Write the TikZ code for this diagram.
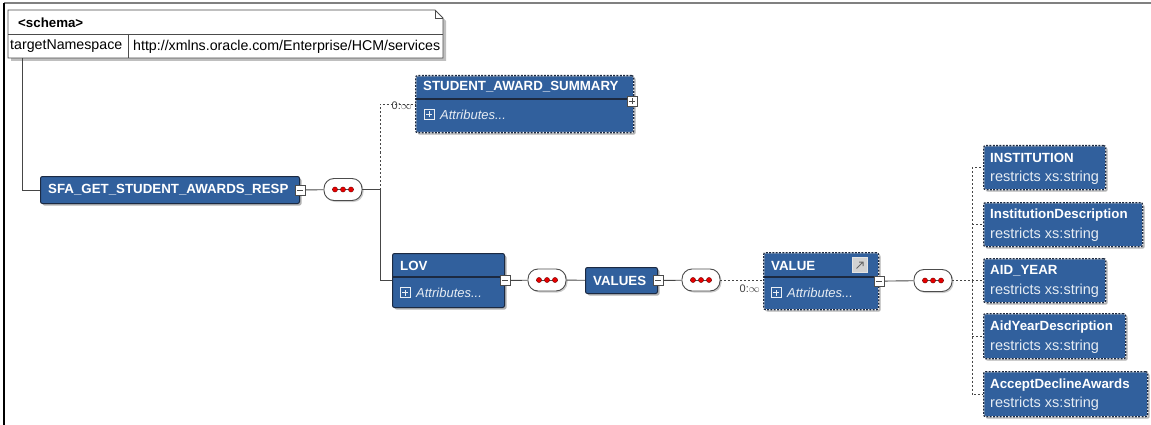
\documentclass[tikz,border=0pt]{standalone}
\usepackage{fontspec}
\setmainfont{Liberation Sans}
\usetikzlibrary{shadows}
\definecolor{boxblue}{RGB}{49,96,157}
\definecolor{boxedge}{RGB}{28,42,66}
\definecolor{connc}{RGB}{70,70,70}
\tikzset{
  elem/.style={draw=boxedge, fill=boxblue, line width=1pt, rounded corners=2pt,
    drop shadow={shadow xshift=2pt, shadow yshift=-2pt, fill=black, opacity=0.3},
    inner sep=0, anchor=north west},
  optelem/.style={elem, draw=white, line width=1.3pt,
    postaction={draw=boxedge, line width=1.3pt, dash pattern=on 2pt off 1.3pt}},
  etitle/.style={font=\bfseries\fontsize{13.3}{15}\selectfont, text=white, anchor=west, inner sep=0},
  etext/.style={font=\fontsize{14.5}{16}\selectfont, text=white!88!boxblue, anchor=west, inner sep=0},
  attr/.style={font=\itshape\fontsize{13}{15}\selectfont, text=white!88!boxblue, anchor=west, inner sep=0},
  tog/.style={draw=gray!60!black, fill=white, minimum size=10pt, inner sep=0, line width=0.7pt},
  minus/.style={tog, path picture={\draw[line width=0.9pt]
      ([xshift=2pt]path picture bounding box.west) -- ([xshift=-2pt]path picture bounding box.east);}},
  plus/.style={tog, path picture={\draw[line width=0.9pt]
      ([xshift=2pt]path picture bounding box.west) -- ([xshift=-2pt]path picture bounding box.east)
      ([yshift=2pt]path picture bounding box.south) -- ([yshift=-2pt]path picture bounding box.north);}},
  aplus/.style={draw=white!90!boxblue, minimum size=10pt, inner sep=0, line width=0.8pt,
    path picture={\draw[white!90!boxblue, line width=0.8pt]
      ([xshift=2pt]path picture bounding box.west) -- ([xshift=-2pt]path picture bounding box.east)
      ([yshift=2pt]path picture bounding box.south) -- ([yshift=-2pt]path picture bounding box.north);}},
  seq/.style={draw=gray!60!black, fill=white, rounded corners=10pt, minimum width=38pt,
    minimum height=22pt, line width=0.9pt, inner sep=0,
    drop shadow={shadow xshift=1.5pt, shadow yshift=-1.5pt, fill=black, opacity=0.2},
    path picture={\draw[line width=0.6pt, black!70]
      ([xshift=-11pt]path picture bounding box.center) -- ([xshift=11pt]path picture bounding box.center);
      \foreach \dx in {-8,0,8}
        \fill[red!90!black, draw=red!40!black, line width=0.3pt]
          ([xshift=\dx pt]path picture bounding box.center) circle (2.6pt);}},
  conn/.style={draw=connc, line width=0.9pt},
  dconn/.style={conn, dash pattern=on 2pt off 2pt},
  card/.style={font=\fontsize{11}{13}\selectfont, text=black!75, inner sep=0},
  stext/.style={font=\fontsize{14.2}{16}\selectfont, anchor=west, inner sep=0},
}
\begin{document}
\begin{tikzpicture}[x=1pt,y=-1pt]
\useasboundingbox (0,0) rectangle (1151,425);
% frame
\draw[gray, line width=1.5pt] (4,3) -- (1151,3);
\draw[black, line width=1.5pt] (4,3) -- (4,425);

% schema box
\fill[black, opacity=0.25] (11,13) -- (438,13) -- (446,21) -- (446,61) -- (11,61) -- cycle;
\draw[gray!60!black, fill=white, line width=0.9pt] (8,10) -- (435,10) -- (443,18) -- (443,58) -- (8,58) -- cycle;
\draw[gray!60!black, line width=0.7pt] (435,10) -- (435,18) -- (443,18);
\draw[gray!60!black, line width=0.9pt] (8,34) -- (443,34) (128,34) -- (128,58);
\node[stext, font=\bfseries\fontsize{13.3}{15}\selectfont] (schemat) at (18,23) {<schema>};
\node[stext] (tns) at (10,46.5) {targetNamespace};
\node[stext] (tnsv) at (133,46.5) {http://xmlns.oracle.com/Enterprise/HCM/services};
\coordinate (sroot) at (22,58);

% SFA root element
\node[elem, minimum width=259pt, minimum height=27pt] (sfa) at (40,176) {};
\node[etitle] (sfat) at ([xshift=8pt]sfa.west) {SFA\_GET\_STUDENT\_AWARDS\_RESP};
\node[minus] (sfam) at (sfa.east) {};
\draw[conn] (sroot) |- (sfa.west);

\node[seq] (seq1) at (343,189.5) {};
\coordinate (j1) at (380,189.5);
\draw[conn] (sfam) -- (seq1);
\draw[conn] (seq1) -- (j1);

% STUDENT_AWARD_SUMMARY
\node[optelem, minimum width=218pt, minimum height=57pt] (ssum) at (415,75) {};
\draw[boxedge, line width=1.5pt] (415.6,99) -- (632.4,99);
\node[etitle] (ssumt) at (423,87) {STUDENT\_AWARD\_SUMMARY};
\node[aplus] (ssuma) at (429,114.5) {};
\node[attr] (ssumat) at (440,115) {Attributes...};
\node[plus] (ssump) at (632,101) {};
\draw[dconn] (j1) |- (ssum.west);
\node[card, anchor=east] (c1) at (412,106) {0:\(\infty\)};

% LOV
\node[elem, minimum width=112pt, minimum height=54pt] (lov) at (392,253) {};
\draw[boxedge, line width=1.5pt] (392.6,277) -- (503.4,277);
\node[etitle] (lovt) at (400,265.5) {LOV};
\node[aplus] (lova) at (405,292.5) {};
\node[attr] (lovat) at (416,293) {Attributes...};
\node[minus] (lovm) at (lov.east) {};
\draw[conn] (j1) |- (lov.west);

\node[seq] (seq2) at (547,280) {};
\draw[conn] (lovm) -- (seq2);

% VALUES
\node[elem, minimum width=72pt, minimum height=26pt] (values) at (585,267) {};
\node[etitle] (valuest) at ([xshift=8pt]values.west) {VALUES};
\node[minus] (valuesm) at (values.east) {};
\draw[conn] (seq2) -- (values);

\node[seq] (seq3) at (701,280) {};
\draw[conn] (valuesm) -- (seq3);

% VALUE
\node[optelem, minimum width=115pt, minimum height=57pt] (value) at (763,252) {};
\draw[boxedge, line width=1.5pt] (763.6,277) -- (877.4,277);
\node[etitle] (valuet) at (771,265.5) {VALUE};
\node[draw=white!80!gray, fill=gray!35, minimum size=15pt, inner sep=0, line width=0.7pt,
  path picture={\draw[black!60, line width=1pt]
    ([shift={(-3.5pt,-3.5pt)}]path picture bounding box.center) -- ([shift={(3pt,3pt)}]path picture bounding box.center)
    ([shift={(-1pt,3pt)}]path picture bounding box.center) -- ([shift={(3pt,3pt)}]path picture bounding box.center) -- ([shift={(3pt,-1pt)}]path picture bounding box.center);}]
  (valicon) at (860,265) {};
\node[aplus] (valuea) at (776,292.5) {};
\node[attr] (valueat) at (787,293) {Attributes...};
\node[minus] (valuem) at (value.east) {};
\draw[dconn] (seq3) -- (seq3 -| value.west);
\node[card, anchor=east] (c2) at (760,289) {0:\(\infty\)};

\node[seq] (seq4) at (933,280.5) {};
\draw[conn] (valuem) -- (seq4);
\coordinate (j2) at (972,280.5);
\draw[dconn] (seq4) -- (j2);

% children
\node[optelem, minimum width=122pt, minimum height=44pt] (inst) at (983,145) {};
\node[etitle] (instt) at (990,158) {INSTITUTION};
\node[etext] (insts) at (990,178) {restricts xs:string};

\node[optelem, minimum width=159pt, minimum height=44pt] (instd) at (983,202) {};
\node[etitle] (instdt) at (990,215) {InstitutionDescription};
\node[etext] (instds) at (990,235) {restricts xs:string};

\node[optelem, minimum width=122pt, minimum height=44pt] (aid) at (983,258) {};
\node[etitle] (aidt) at (990,271) {AID\_YEAR};
\node[etext] (aids) at (990,291) {restricts xs:string};

\node[optelem, minimum width=142pt, minimum height=45pt] (aidd) at (983,313) {};
\node[etitle] (aiddt) at (990,327) {AidYearDescription};
\node[etext] (aidds) at (990,347) {restricts xs:string};

\node[optelem, minimum width=164pt, minimum height=45pt] (acc) at (983,371) {};
\node[etitle] (acct) at (990,385) {AcceptDeclineAwards};
\node[etext] (accs) at (990,404) {restricts xs:string};

\draw[dconn] (j2) |- (inst.west);
\draw[dconn] (j2) |- (instd.west);
\draw[dconn] (j2) |- (aid.west);
\draw[dconn] (j2) |- (aidd.west);
\draw[dconn] (j2) |- (acc.west);
\end{tikzpicture}
\end{document}
